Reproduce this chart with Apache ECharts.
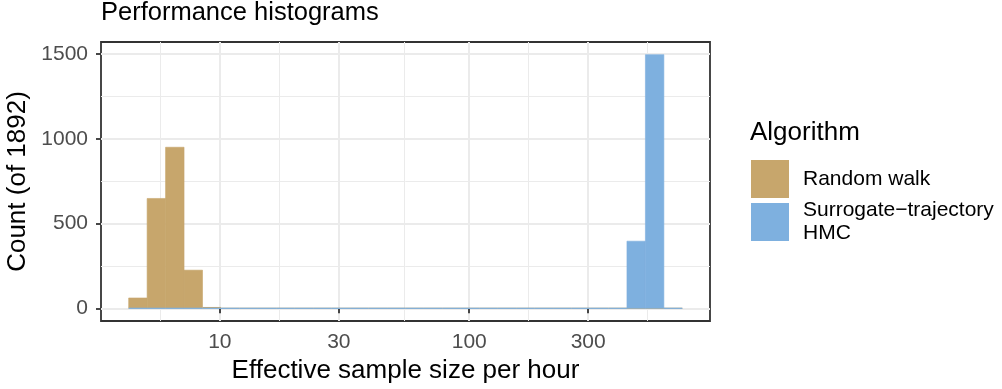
<!DOCTYPE html>
<html>
<head>
<meta charset="utf-8">
<title>Performance histograms</title>
<script src="https://cdn.jsdelivr.net/npm/echarts@6/dist/echarts.min.js"></script>
<style>
  html, body { margin: 0; padding: 0; background: #fff; }
  #hist { width: 1002px; height: 389px; }
</style>
</head>
<body>
<div id="hist"></div>
<script>
// histogram: 30 bins, equal width on log10(ESS per hour)
var binLo = 4.31;    // lower edge of first bin
var binHi = 715.3;   // upper edge of last bin
var nBins = 30;

// counts per bin
var randomWalk   = [61, 648, 950, 225, 8, 0, 0, 0, 0, 0,
                    0, 0, 0, 0, 0, 0, 0, 0, 0, 0,
                    0, 0, 0, 0, 0, 0, 0, 0, 0, 0];
var surrogateHMC = [0, 0, 0, 0, 0, 0, 0, 0, 0, 0,
                    0, 0, 0, 0, 0, 0, 0, 0, 0, 0,
                    0, 0, 0, 0, 0, 0, 0, 396, 1496, 0];

var xTicks = [10, 30, 100, 300];
var yTicks = [0, 500, 1000, 1500];
var yMinor = [250, 750, 1250];

var FONT = '"Liberation Sans", Arial, sans-serif';
var brown = '#C7A66C';
var blue = '#7EB0DF';

var lg = Math.log10;
var w = (lg(binHi) - lg(binLo)) / nBins;
var edges = [];
for (var i = 0; i <= nBins; i++) edges.push(lg(binLo) + i * w);

// ggplot style 5% expansion
var xPad = (lg(binHi) - lg(binLo)) * 0.05;
var xMin = lg(binLo) - xPad, xMax = lg(binHi) + xPad;
var yPad = 1496 * 0.05;
var yMin = -yPad, yMax = 1496 + yPad;

// minor breaks = midpoints between majors (log space), extended one step each side
var xMajor = xTicks.map(lg);
var xMinorPos = [];
var ext = [2 * xMajor[0] - xMajor[1]].concat(xMajor, [2 * xMajor[xMajor.length - 1] - xMajor[xMajor.length - 2]]);
for (var k = 0; k < ext.length - 1; k++) xMinorPos.push((ext[k] + ext[k + 1]) / 2);

function binData(counts) {
  return counts.map(function (c, i) { return [edges[i], edges[i + 1], c]; });
}

function drawBin(params, api) {
  var p0 = api.coord([api.value(0), 0]);
  var p1 = api.coord([api.value(1), api.value(2)]);
  var y = p1[1], h = p0[1] - p1[1];
  if (h < 1.2) { y = p0[1] - 0.6; h = 1.2; }
  var c = api.visual('color');
  return {
    type: 'rect',
    shape: { x: p0[0], y: y, width: p1[0] - p0[0], height: h },
    style: { fill: c, stroke: h > 2 ? c : null, lineWidth: 0.6 }
  };
}

var chart = echarts.init(document.getElementById('hist'));

var option = {
  animation: false,
  backgroundColor: '#fff',
  textStyle: { fontFamily: FONT },
  title: [
    {
      text: 'Performance histograms',
      left: 101, top: 0, padding: 0,
      textStyle: { fontFamily: FONT, fontSize: 25.5, fontWeight: 'normal', color: '#000' }
    },
    {
      text: 'Algorithm',
      left: 750, top: 120, padding: 0,
      textStyle: { fontFamily: FONT, fontSize: 26, fontWeight: 'normal', color: '#000' }
    }
  ],
  legend: {
    orient: 'vertical',
    left: 751, top: 160, padding: 0,
    itemWidth: 38, itemHeight: 38, itemGap: 1,
    icon: 'rect',
    textStyle: { fontFamily: FONT, fontSize: 21, color: '#000', lineHeight: 23, padding: [0, 0, 0, 9] },
    data: ['Random walk', 'Surrogate\u2212trajectory\nHMC']
  },
  grid: {
    left: 101, right: 292, top: 42, bottom: 68,
    outerBoundsMode: 'none', containLabel: false,
    show: true, borderColor: '#333', borderWidth: 1.8, backgroundColor: '#fff'
  },
  xAxis: [
    {
      type: 'value', min: xMin, max: xMax,
      name: 'Effective sample size per hour',
      nameLocation: 'middle', nameGap: 36,
      nameTextStyle: { fontFamily: FONT, fontSize: 26, color: '#000' },
      axisLine: { show: false },
      axisTick: { show: true, length: 5, customValues: xMajor, lineStyle: { color: '#333', width: 1.8 } },
      axisLabel: {
        customValues: xMajor, margin: 11,
        fontFamily: FONT, fontSize: 21, color: '#4D4D4D',
        formatter: function (v) { return String(Math.round(Math.pow(10, v))); }
      },
      splitLine: { show: true, lineStyle: { color: '#EBEBEB', width: 2 } }
    },
    {
      type: 'value', min: xMin, max: xMax, gridIndex: 0,
      axisLine: { show: false },
      axisTick: { show: false, customValues: xMinorPos },
      axisLabel: { show: false },
      splitLine: { show: true, lineStyle: { color: '#EBEBEB', width: 1 } }
    }
  ],
  yAxis: [
    {
      type: 'value', min: yMin, max: yMax,
      name: 'Count (of 1892)',
      nameLocation: 'middle', nameRotate: 90, nameGap: 68,
      nameTextStyle: { fontFamily: FONT, fontSize: 26, color: '#000' },
      axisLine: { show: false },
      axisTick: { show: true, length: 5, customValues: yTicks, lineStyle: { color: '#333', width: 1.8 } },
      axisLabel: {
        customValues: yTicks, margin: 13, fontFamily: FONT, fontSize: 21, color: '#4D4D4D',
        formatter: function (v) { return String(Math.round(v)); }
      },
      splitLine: { show: true, lineStyle: { color: '#EBEBEB', width: 2 } }
    },
    {
      type: 'value', min: yMin, max: yMax, gridIndex: 0,
      axisLine: { show: false },
      axisTick: { show: false, customValues: yMinor },
      axisLabel: { show: false },
      splitLine: { show: true, lineStyle: { color: '#EBEBEB', width: 1 } }
    }
  ],
  series: [
    {
      name: 'Random walk',
      type: 'custom',
      renderItem: drawBin,
      itemStyle: { color: brown },
      encode: { x: [0, 1], y: 2 },
      data: binData(randomWalk),
      z: 3
    },
    {
      name: 'Surrogate\u2212trajectory\nHMC',
      type: 'custom',
      renderItem: drawBin,
      itemStyle: { color: blue },
      encode: { x: [0, 1], y: 2 },
      data: binData(surrogateHMC),
      z: 4
    }
  ]
};

chart.setOption(option);
</script>
</body>
</html>
